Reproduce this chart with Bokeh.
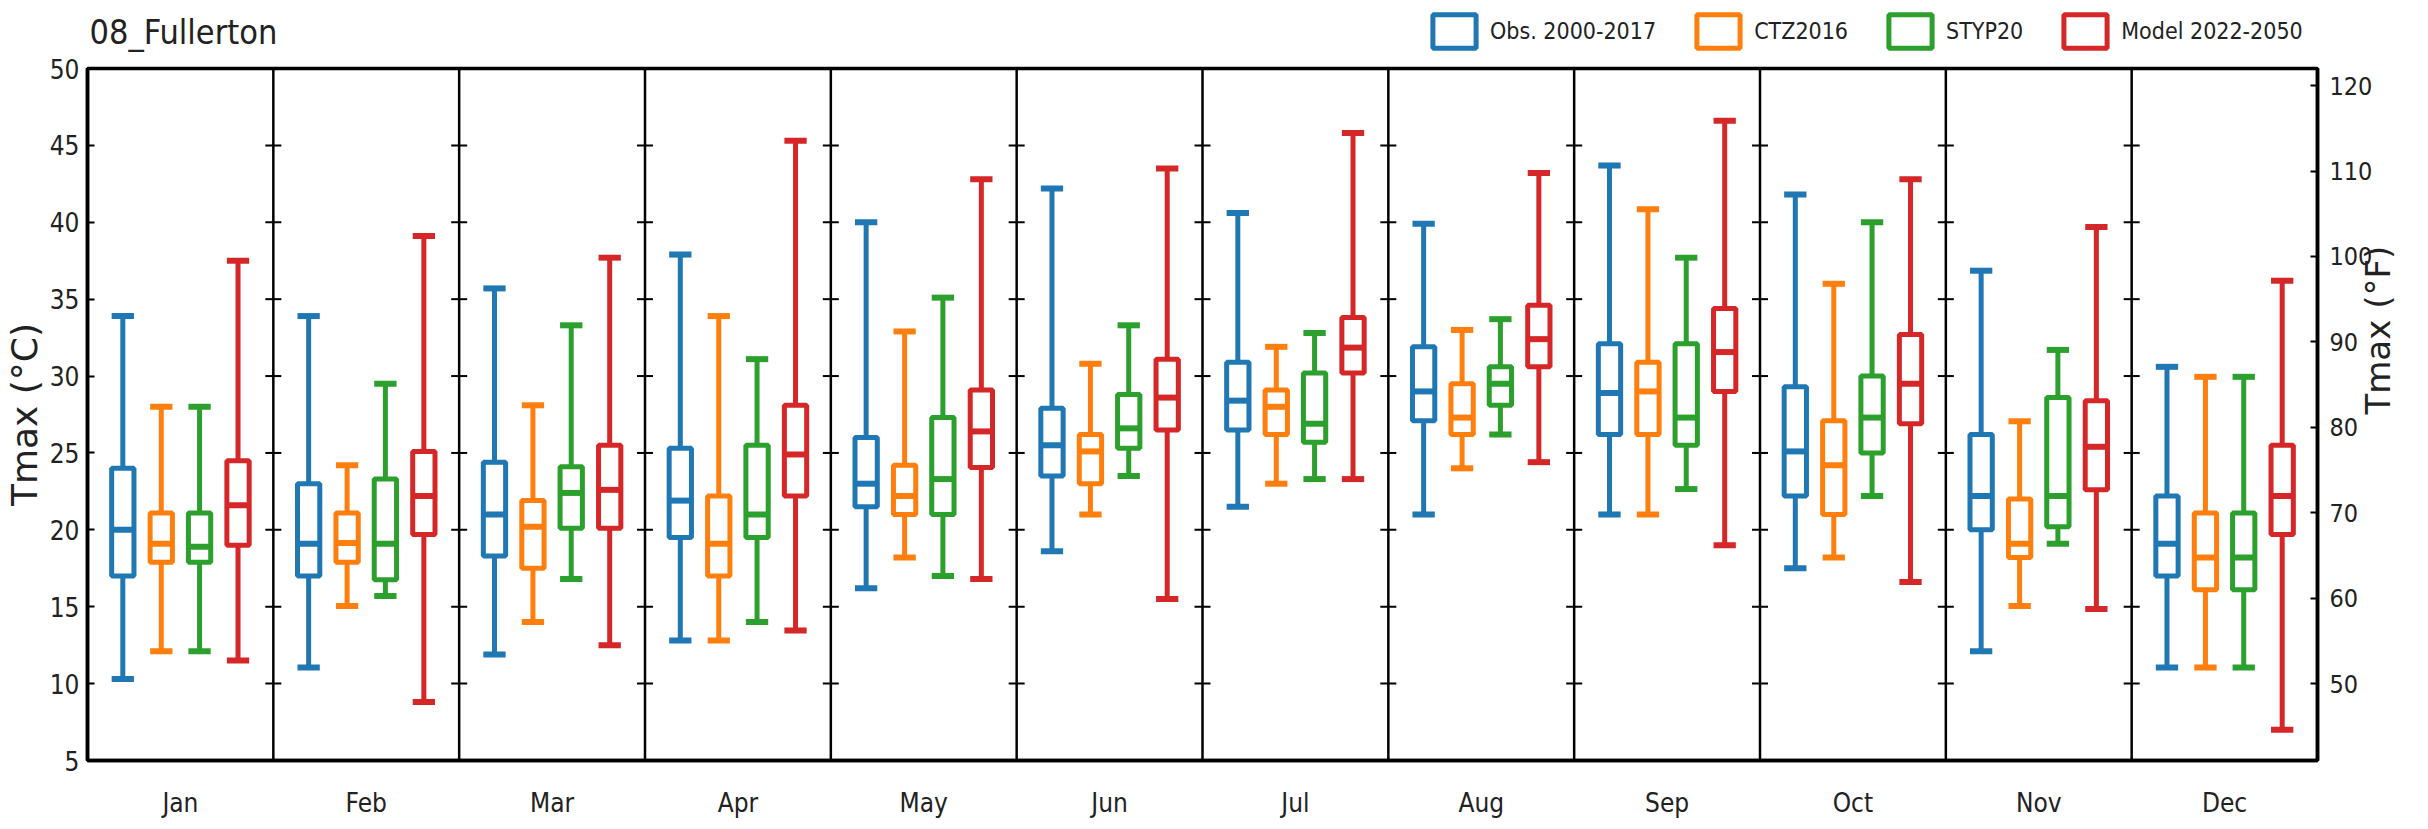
import math
from bokeh.plotting import figure
from bokeh.layouts import column
from bokeh.models import (Range1d, LinearAxis, FixedTicker, Span, Legend,
                          LegendItem, ColumnDataSource, Label)
from bokeh.embed import file_html
from bokeh.resources import INLINE

# ---------------- data ----------------
months = ["Jan", "Feb", "Mar", "Apr", "May", "Jun",
          "Jul", "Aug", "Sep", "Oct", "Nov", "Dec"]
series_names = ["Obs. 2000-2017", "CTZ2016", "STYP20", "Model 2022-2050"]
series_colors = ["#1f77b4", "#ff7f0e", "#2ca02c", "#d62728"]
series_offsets = [-0.31, -0.103, 0.103, 0.31]

obs_lo  = [10.3, 11.05, 11.9, 12.8, 16.2, 18.6, 21.5, 21.0, 21.0, 17.5, 12.1, 11.05]
obs_q1  = [17.0, 17.0, 18.3, 19.5, 21.5, 23.5, 26.5, 27.1, 26.2, 22.2, 20.0, 17.0]
obs_med = [20.0, 19.1, 21.0, 21.9, 23.0, 25.5, 28.4, 29.0, 28.9, 25.1, 22.2, 19.1]
obs_q3  = [24.0, 23.0, 24.4, 25.3, 26.0, 27.9, 30.9, 31.9, 32.1, 29.3, 26.2, 22.2]
obs_hi  = [33.9, 33.9, 35.7, 37.9, 40.0, 42.2, 40.6, 39.9, 43.7, 41.8, 36.85, 30.6]

ctz_lo  = [12.1, 15.05, 14.0, 12.8, 18.2, 21.0, 23.0, 24.0, 21.0, 18.2, 15.05, 11.05]
ctz_q1  = [17.9, 17.9, 17.5, 17.0, 21.0, 23.0, 26.2, 26.2, 26.2, 21.0, 18.2, 16.1]
ctz_med = [19.1, 19.15, 20.2, 19.1, 22.2, 25.1, 28.0, 27.3, 29.0, 24.2, 19.1, 18.2]
ctz_q3  = [21.1, 21.1, 21.9, 22.2, 24.2, 26.2, 29.1, 29.5, 30.9, 27.1, 22.0, 21.1]
ctz_hi  = [28.0, 24.2, 28.1, 33.9, 32.9, 30.8, 31.9, 33.0, 40.85, 36.0, 27.06, 29.95]

styp_lo  = [12.1, 15.7, 16.8, 14.0, 17.0, 23.5, 23.3, 26.2, 22.65, 22.2, 19.1, 11.05]
styp_q1  = [17.9, 16.75, 20.1, 19.5, 21.0, 25.3, 25.7, 28.1, 25.5, 25.0, 20.2, 16.1]
styp_med = [18.9, 19.1, 22.4, 21.0, 23.3, 26.6, 26.9, 29.5, 27.3, 27.3, 22.2, 18.2]
styp_q3  = [21.1, 23.3, 24.1, 25.5, 27.3, 28.8, 30.2, 30.6, 32.1, 30.0, 28.6, 21.1]
styp_hi  = [28.0, 29.5, 33.3, 31.1, 35.1, 33.3, 32.8, 33.7, 37.7, 40.0, 31.7, 29.95]

model_lo  = [11.5, 8.8, 12.5, 13.45, 16.8, 15.5, 23.3, 24.4, 19.0, 16.6, 14.85, 7.0]
model_q1  = [19.0, 19.7, 20.1, 22.2, 24.05, 26.5, 30.2, 30.6, 29.0, 26.9, 22.6, 19.7]
model_med = [21.6, 22.2, 22.6, 24.9, 26.4, 28.6, 31.85, 32.4, 31.56, 29.5, 25.4, 22.2]
model_q3  = [24.5, 25.1, 25.5, 28.1, 29.1, 31.1, 33.8, 34.6, 34.4, 32.7, 28.4, 25.5]
model_hi  = [37.5, 39.1, 37.7, 45.3, 42.8, 43.5, 45.8, 43.2, 46.6, 42.8, 39.7, 36.2]

series_data = [
    (obs_lo, obs_q1, obs_med, obs_q3, obs_hi),
    (ctz_lo, ctz_q1, ctz_med, ctz_q3, ctz_hi),
    (styp_lo, styp_q1, styp_med, styp_q3, styp_hi),
    (model_lo, model_q1, model_med, model_q3, model_hi),
]

c_ticks = [5, 10, 15, 20, 25, 30, 35, 40, 45, 50]
f_ticks = [50, 60, 70, 80, 90, 100, 110, 120]
c_min, c_max = 5, 50
title_text = "08_Fullerton"

NARROW = "'DejaVu Sans Condensed', 'DejaVu Sans'"
WIDE = "DejaVu Sans"
TXT = "#222222"
BOX_LW = 5
CAP_LW = 6

W = 2421
BL, BR = 82, 100
HEAD_H = 52
MAIN_H = 768

n = len(months)
bw = 0.12
box_sources = []
for off, (lo, q1, med, q3, hi) in zip(series_offsets, series_data):
    xs = [i + 0.5 + off for i in range(n)]
    box_sources.append(dict(x=xs, xl=[x - bw / 2 for x in xs],
                            xr=[x + bw / 2 for x in xs],
                            lo=lo, q1=q1, med=med, q3=q3, hi=hi))

# ---------------- header (title + legend) ----------------
head = figure(width=W, height=HEAD_H, x_range=Range1d(0, n),
              y_range=Range1d(c_min, c_max), output_backend="svg",
              toolbar_location=None, x_axis_location=None,
              y_axis_location=None, min_border_left=BL, min_border_right=BR,
              min_border_top=0, min_border_bottom=0)
head.xgrid.visible = False
head.ygrid.visible = False
head.outline_line_color = None
head.add_layout(Label(x=2, y=21, x_units="screen", y_units="screen",
                      text=title_text, text_font=NARROW,
                      text_font_size="34px", text_color=TXT,
                      text_baseline="middle", text_align="left"))

items = []
for name, color, d in zip(series_names, series_colors, box_sources):
    # legend proxy (hidden; only its legend swatch is drawn)
    r = head.vbar(x=d["x"], width=bw, top=d["q3"], bottom=d["q1"],
                  fill_color="white", line_color=color, line_width=BOX_LW)
    r.visible = False
    items.append(LegendItem(label=name, renderers=[r]))
legend = Legend(items=items, orientation="horizontal", location=(1340, 0),
                glyph_width=54, glyph_height=42, label_standoff=9, spacing=35,
                padding=0, margin=0, border_line_color=None,
                background_fill_alpha=0, inactive_fill_alpha=0,
                label_text_font=NARROW, label_text_font_size="23px",
                label_text_color=TXT)
head.add_layout(legend)

# ---------------- main figure ----------------
p = figure(width=W, height=MAIN_H, x_range=Range1d(0, n),
           y_range=Range1d(c_min, c_max), output_backend="svg",
           toolbar_location=None, min_border_left=BL, min_border_right=BR,
           min_border_top=16, min_border_bottom=58)
p.xgrid.visible = False
p.ygrid.visible = False
p.outline_line_color = "black"
p.outline_line_width = 3.5
p.outline_line_alpha = 1.0

# x axis (months)
xa = p.xaxis[0]
centers = [i + 0.5 for i in range(n)]
xa.ticker = FixedTicker(ticks=centers)
xa.major_label_overrides = {c: m for c, m in zip(centers, months)}
xa.major_tick_in = 0
xa.major_tick_out = 0
xa.minor_tick_line_color = None
xa.axis_line_width = 3.5
xa.major_label_standoff = 27
xa.major_label_text_font = NARROW
xa.major_label_text_font_size = "26px"
xa.major_label_text_color = TXT

# left axis (°C)
ya = p.yaxis[0]
ya.ticker = FixedTicker(ticks=c_ticks)
ya.major_tick_in = 7
ya.major_tick_out = 0
ya.major_tick_line_width = 2
ya.minor_tick_line_color = None
ya.axis_line_width = 3.5
ya.major_label_standoff = 8
ya.major_label_text_font = NARROW
ya.major_label_text_font_size = "26px"
ya.major_label_text_color = TXT
ya.axis_label = "Tmax (°C)"
ya.axis_label_text_font = WIDE
ya.axis_label_text_font_size = "36px"
ya.axis_label_text_font_style = "normal"
ya.axis_label_text_color = TXT
ya.axis_label_standoff = 2

# right axis (°F)
p.extra_y_ranges = {"F": Range1d(c_min * 9 / 5 + 32, c_max * 9 / 5 + 32)}
ra = LinearAxis(y_range_name="F", ticker=FixedTicker(ticks=f_ticks))
ra.major_tick_in = 7
ra.major_tick_out = 0
ra.major_tick_line_width = 2
ra.minor_tick_line_color = None
ra.axis_line_width = 3.5
ra.major_label_standoff = 12
ra.major_label_text_font = NARROW
ra.major_label_text_font_size = "25px"
ra.major_label_text_color = TXT
ra.axis_label = "Tmax (°F)"
ra.axis_label_text_font = WIDE
ra.axis_label_text_font_size = "34px"
ra.axis_label_text_font_style = "normal"
ra.axis_label_text_color = TXT
ra.axis_label_standoff = 3
try:
    ra.axis_label_orientation = math.pi / 2
except Exception:
    pass
p.add_layout(ra, "right")

# month separators with inner tick marks
for b in range(1, n):
    p.add_layout(Span(location=b, dimension="height", line_color="black",
                      line_width=2.5))
sep_x = [b for b in range(1, n) for t in c_ticks[1:-1]]
sep_y = [t for b in range(1, n) for t in c_ticks[1:-1]]
p.dash(x=sep_x, y=sep_y, size=16, angle=0, line_color="black", line_width=2)

# boxes
for color, d in zip(series_colors, box_sources):
    src = ColumnDataSource(d)
    p.segment(x0="x", y0="q3", x1="x", y1="hi", source=src,
              line_color=color, line_width=BOX_LW)
    p.segment(x0="x", y0="lo", x1="x", y1="q1", source=src,
              line_color=color, line_width=BOX_LW)
    p.segment(x0="xl", y0="hi", x1="xr", y1="hi", source=src,
              line_color=color, line_width=CAP_LW)
    p.segment(x0="xl", y0="lo", x1="xr", y1="lo", source=src,
              line_color=color, line_width=CAP_LW)
    p.vbar(x="x", width=bw, bottom="q1", top="q3", source=src,
           fill_color="white", line_color=color, line_width=BOX_LW)
    p.segment(x0="xl", y0="med", x1="xr", y1="med", source=src,
              line_color=color, line_width=CAP_LW)

layout = column(head, p, spacing=0)
open("out.html", "w").write(file_html(layout, INLINE))
